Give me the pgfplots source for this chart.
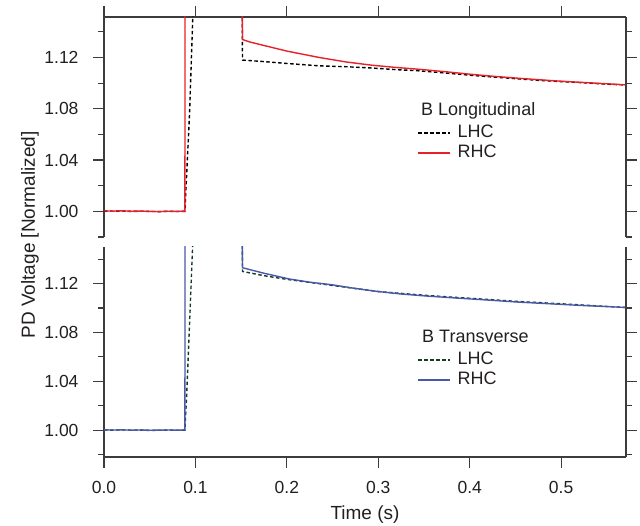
\documentclass[border=0pt]{standalone}
\usepackage{pgfplots}
\pgfplotsset{compat=1.18}
\usepackage{fontspec}
\setmainfont{Liberation Sans}
\definecolor{myred}{RGB}{232,32,42}
\definecolor{myblue}{RGB}{72,88,170}
\definecolor{mygreen}{RGB}{20,60,35}
\definecolor{axcol}{RGB}{60,60,60}
\definecolor{txtcol}{RGB}{35,31,32}
\pgfplotsset{
  common/.style={
    scale only axis,
    width=522bp,
    xmin=0, xmax=0.571,
    tick align=outside,
    major tick length=11bp,
    minor tick length=6bp,
    axis line style={-, line width=1.3bp, color=axcol},
    every tick/.style={line width=1.2bp, color=axcol},
    ytick={1.00,1.04,1.08,1.12},
    minor ytick={0.98,1.02,1.06,1.10,1.14},
    xtick={0,0.1,0.2,0.3,0.4,0.5},
    yticklabel style={font=\fontsize{17.5bp}{20bp}\selectfont, text=txtcol, xshift=-11bp,
      /pgf/number format/.cd, fixed, fixed zerofill, precision=2, assume math mode=true},
    xticklabel style={font=\fontsize{17.5bp}{20bp}\selectfont, text=txtcol, yshift=-10bp,
      /pgf/number format/.cd, fixed, fixed zerofill, precision=1, assume math mode=true},
    legend cell align=left,
    legend style={draw=none, fill=none, inner sep=0pt, anchor=north west,
      font=\fontsize{18bp}{21bp}\selectfont, text=txtcol,
      row sep=3bp, nodes={inner xsep=6.5bp, inner ysep=0bp, text height=13bp, text depth=4bp}},
    clip=true,
  },
}
\begin{document}
\begin{tikzpicture}[x=1bp,y=1bp]
\path[use as bounding box] (0,0) rectangle (640,526);
% top panel
\begin{axis}[common,
  at={(104bp,289bp)}, anchor=south west,
  height=220bp,
  ymin=0.98, ymax=1.1516,
  axis x line*=top, axis y line*=box,
  xticklabels={},
  legend style={at={(0.600,0.512)}},
]
\addplot[black, line width=1.4bp, dash pattern=on 3.5bp off 2.5bp,
  legend image code/.code={\draw[black, line width=1.4bp, dash pattern=on 3.5bp off 2.5bp] (0bp,0bp) -- (32bp,0bp);}] coordinates {
(0,1.0002)(0.01,1.0001)(0.02,1.0003)(0.03,0.9999)(0.04,1.0001)(0.05,0.9999)(0.06,0.9998)(0.07,1.0000)(0.08,0.9999)(0.0885,1.0000)
(0.0935,1.075)(0.098,1.17)(0.151,1.17)(0.1515,1.118)
(0.175,1.1168)(0.199,1.1154)(0.2355,1.1135)(0.265,1.1128)(0.293,1.1118)(0.32,1.1105)(0.345,1.1096)(0.375,1.1078)(0.4,1.1062)(0.425,1.1048)(0.45,1.1035)(0.475,1.1022)(0.5,1.1012)(0.525,1.1003)(0.55,1.0992)(0.57,1.0986)
};
\addlegendentry{LHC}
\addplot[color=myred, line width=1.4bp,
  legend image code/.code={\draw[myred, line width=1.6bp] (0bp,0bp) -- (32bp,0bp);}] coordinates {
(0,1.0003)(0.01,1.0002)(0.02,1.0004)(0.03,1.0001)(0.04,1.0002)(0.05,1.0000)(0.06,0.9998)(0.07,1.0001)(0.08,1.0000)(0.0885,1.0002)
(0.0887,1.20)(0.151,1.20)(0.1515,1.134)
(0.16,1.132)(0.18,1.1285)(0.2,1.125)(0.2355,1.1200)(0.265,1.1165)(0.293,1.1140)(0.32,1.1122)(0.345,1.1108)(0.375,1.1088)(0.4,1.1070)(0.425,1.1054)(0.45,1.1040)(0.475,1.1027)(0.5,1.1015)(0.525,1.1005)(0.55,1.0995)(0.57,1.0987)
};
\addlegendentry{RHC}
\end{axis}
% bottom panel
\begin{axis}[common,
  at={(104bp,69bp)}, anchor=south west,
  height=210bp,
  ymin=0.978, ymax=1.150,
  axis x line*=bottom, axis y line*=box,
  legend style={at={(0.600,0.504)}},
]
\addplot[mygreen, line width=1.4bp, dash pattern=on 3.5bp off 2.5bp,
  legend image code/.code={\draw[mygreen, line width=1.4bp, dash pattern=on 3.5bp off 2.5bp] (0bp,0bp) -- (32bp,0bp);}] coordinates {
(0,1.0001)(0.01,1.0000)(0.02,1.0002)(0.03,0.9999)(0.04,1.0000)(0.05,0.9998)(0.06,0.9999)(0.07,1.0000)(0.08,0.9999)(0.0885,1.0000)
(0.0905,1.03)(0.098,1.17)(0.151,1.17)(0.1515,1.130)
(0.175,1.1265)(0.2,1.1235)(0.225,1.1210)(0.25,1.1185)(0.275,1.1160)(0.3,1.1135)(0.325,1.1120)(0.35,1.1105)(0.375,1.1092)(0.4,1.1080)(0.425,1.1068)(0.45,1.1055)(0.475,1.1045)(0.5,1.1035)(0.525,1.1024)(0.55,1.1013)(0.57,1.1005)
};
\addlegendentry{LHC}
\addplot[color=myblue, line width=1.4bp,
  legend image code/.code={\draw[myblue, line width=1.6bp] (0bp,0bp) -- (32bp,0bp);}] coordinates {
(0,1.0002)(0.01,1.0001)(0.02,1.0002)(0.03,1.0000)(0.04,1.0001)(0.05,0.9999)(0.06,1.0000)(0.07,1.0001)(0.08,1.0000)(0.0885,1.0001)
(0.0887,1.20)(0.151,1.20)(0.1515,1.133)
(0.175,1.1285)(0.2026,1.1238)(0.225,1.1212)(0.25,1.1190)(0.275,1.1160)(0.3,1.1135)(0.325,1.1115)(0.35,1.1100)(0.375,1.1087)(0.4,1.1075)(0.425,1.1063)(0.45,1.1050)(0.475,1.1040)(0.5,1.1030)(0.525,1.1020)(0.55,1.1012)(0.57,1.1005)
};
\addlegendentry{RHC}
\end{axis}
\node[anchor=base west, inner sep=0pt, text=txtcol, font=\fontsize{18bp}{21bp}\selectfont] at (421,410) {B Longitudinal};
\node[anchor=base west, inner sep=0pt, text=txtcol, font=\fontsize{18bp}{21bp}\selectfont] at (422,183) {B Transverse};
\node[text=txtcol, font=\fontsize{19bp}{22bp}\selectfont] at (365,11) {Time (s)};
\node[rotate=90, text=txtcol, font=\fontsize{19bp}{22bp}\selectfont] at (30,291) {PD Voltage [Normalized]};
\end{tikzpicture}
\end{document}
